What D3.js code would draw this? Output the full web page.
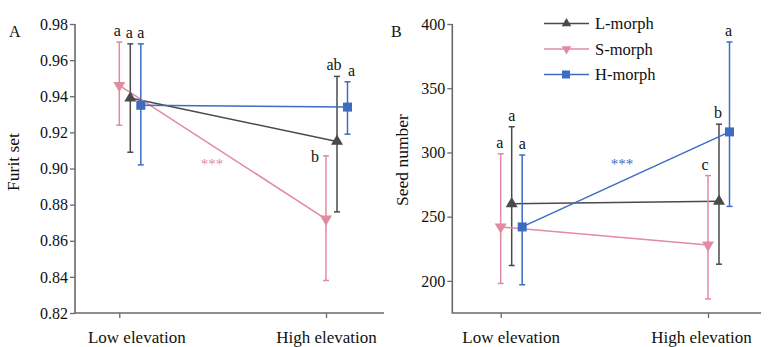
<!DOCTYPE html>
<html lang="en">
<head>
<meta charset="UTF-8">
<title>Fruit set and seed number</title>
<script src="https://d3js.org/d3.v7.min.js"></script>
<style>
  body { margin: 0; background: #fff; }
  svg text { font-family: "Liberation Serif", "DejaVu Serif", serif; fill: #111; }
</style>
</head>
<body>
<div id="chart"></div>
<script>
// categories and series
const categories = ["Low elevation", "High elevation"];
const series = ["L-morph", "S-morph", "H-morph"];
const colors = ["#4a4a4a", "#e28aa2", "#3d6cc0"];

// panel A: fruit set (mean, lower, upper), one array per morph, [low, high]
const fruitMean = [[0.939, 0.915], [0.946, 0.872], [0.935, 0.934]];
const fruitLow  = [[0.909, 0.876], [0.924, 0.838], [0.902, 0.919]];
const fruitHigh = [[0.969, 0.951], [0.970, 0.907], [0.969, 0.948]];
const fruitLetters = [["a", "ab"], ["a", "b"], ["a", "a"]];
const fruitTicks = [0.82, 0.84, 0.86, 0.88, 0.90, 0.92, 0.94, 0.96, 0.98];

// panel B: seed number
const seedMean = [[260, 262], [242, 228], [242, 316]];
const seedLow  = [[212, 213], [198, 186], [197, 258]];
const seedHigh = [[320, 322], [299, 282], [298, 386]];
const seedLetters = [["a", "b"], ["a", "c"], ["a", "a"]];
const seedTicks = [200, 250, 300, 350, 400];

const width = 768, height = 347;
const svg = d3.select("#chart").append("svg")
  .attr("width", width).attr("height", height);

const axisColor = "#6a6a6a";
const serif = "Liberation Serif, DejaVu Serif, serif";
const dodge = [11, 0, 21.5];   // horizontal offset of each morph from the tick

function panel(opt) {
  const g = svg.append("g");
  const y = d3.scaleLinear().domain(opt.domain).range([313, 24]);
  const x = d3.scalePoint().domain(categories).range(opt.xr);

  // y axis
  const ya = g.append("g").attr("transform", `translate(${opt.left},0)`)
    .call(d3.axisLeft(y).tickValues(opt.ticks).tickFormat(opt.fmt).tickSize(5).tickSizeOuter(0))
    .attr("font-family", serif);
  ya.select(".domain").remove();
  ya.selectAll("line").attr("stroke", axisColor).attr("stroke-width", 1.3);
  ya.selectAll("text").attr("font-size", 16).attr("x", -7).attr("fill", "#111");

  // x axis
  const xa = g.append("g").attr("transform", "translate(0,313)")
    .call(d3.axisBottom(x).tickSize(5).tickSizeOuter(0))
    .attr("font-family", serif);
  xa.select(".domain").remove();
  xa.selectAll("line").attr("stroke", axisColor).attr("stroke-width", 1.3);
  xa.selectAll("text").attr("font-size", 17).attr("dy", "1.3em")
    .attr("dx", (d, i) => opt.labelDx[i]).attr("fill", "#111");

  // axis lines
  g.append("path")
    .attr("d", `M${opt.left},${y(opt.domain[1])}V313H${opt.right}`)
    .attr("fill", "none").attr("stroke", axisColor).attr("stroke-width", 1.6);

  // axis title and panel letter
  g.append("text").attr("transform", `translate(${opt.titleX},${opt.titleY}) rotate(-90)`)
    .attr("text-anchor", "middle").attr("font-size", 17.5).text(opt.title);
  g.append("text").attr("x", opt.panelX).attr("y", 37).attr("font-size", 16).text(opt.panel);

  const px = (i, j) => x(categories[j]) + dodge[i];

  series.forEach((s, i) => {
    const c = colors[i];
    // connecting line
    g.append("path")
      .datum(opt.mean[i])
      .attr("d", d3.line().x((d, j) => px(i, j)).y(d => y(d)))
      .attr("fill", "none").attr("stroke", c).attr("stroke-width", 1.5);

    // error bars
    categories.forEach((cat, j) => {
      const cx = px(i, j), lo = y(opt.lo[i][j]), hi = y(opt.hi[i][j]);
      g.append("line").attr("x1", cx).attr("x2", cx).attr("y1", lo).attr("y2", hi)
        .attr("stroke", c).attr("stroke-width", 1.5);
      [lo, hi].forEach(v => g.append("line").attr("x1", cx - 3).attr("x2", cx + 3)
        .attr("y1", v).attr("y2", v).attr("stroke", c).attr("stroke-width", 1.5));
    });
  });

  // markers on top
  series.forEach((s, i) => {
    const c = colors[i];
    categories.forEach((cat, j) => {
      const cx = px(i, j), cy = y(opt.mean[i][j]);
      if (i === 2) {
        g.append("rect").attr("x", cx - 4.5).attr("y", cy - 4.5).attr("width", 9).attr("height", 9).attr("fill", c);
      } else {
        const sym = d3.symbol().type(d3.symbolTriangle).size(62);
        g.append("path").attr("d", sym())
          .attr("transform", `translate(${cx},${cy}) rotate(${i === 1 ? 180 : 0})`)
          .attr("fill", c);
      }
    });
  });

  // letters (small sideways nudges keep neighbours apart)
  series.forEach((s, i) => {
    categories.forEach((cat, j) => {
      const side = opt.side && opt.side[0] === i && opt.side[1] === j;
      const cx = px(i, j), top = y(opt.hi[i][j]);
      const nudge = opt.nudge ? opt.nudge[i][j] : 0;
      g.append("text")
        .attr("x", side ? cx - 11 : cx + nudge)
        .attr("y", side ? top + 6 : top - 6)
        .attr("text-anchor", "middle").attr("font-size", 16)
        .text(opt.letters[i][j]);
    });
  });

  // significance
  g.append("text").attr("x", opt.sig[0]).attr("y", opt.sig[1])
    .attr("text-anchor", "middle").attr("font-size", 15)
    .style("fill", colors[opt.sigSeries]).text("***");
  return g;
}

panel({
  domain: [0.82, 0.98], ticks: fruitTicks, fmt: d3.format(".2f"),
  left: 75, right: 384, xr: [119.3, 326], labelDx: [17, 0],
  mean: fruitMean, lo: fruitLow, hi: fruitHigh, letters: fruitLetters,
  nudge: [[-1, -3], [-2, 0], [0, 4]],
  title: "Furit set", titleX: 19, titleY: 162, panel: "A", panelX: 9,
  side: [1, 1], sig: [212, 169], sigSeries: 1
});

const pB = panel({
  domain: [175, 400], ticks: seedTicks, fmt: d3.format("d"),
  left: 452.3, right: 761, xr: [500.7, 708], labelDx: [10, -7],
  mean: seedMean, lo: seedLow, hi: seedHigh, letters: seedLetters,
  nudge: [[0, -1], [-1, -3], [0, -1]],
  title: "Seed number", titleX: 408, titleY: 160, panel: "B", panelX: 391,
  side: null, sig: [622, 169], sigSeries: 2
});

// legend
const legend = pB.append("g");
series.forEach((s, i) => {
  const ly = 23.5 + i * 25.5;
  legend.append("line").attr("x1", 544).attr("x2", 589).attr("y1", ly).attr("y2", ly)
    .attr("stroke", colors[i]).attr("stroke-width", 1.5);
  if (i === 2) {
    legend.append("rect").attr("x", 562).attr("y", ly - 4).attr("width", 8).attr("height", 8).attr("fill", colors[i]);
  } else {
    legend.append("path").attr("d", d3.symbol().type(d3.symbolTriangle).size(40)())
      .attr("transform", `translate(566.5,${ly}) rotate(${i === 1 ? 180 : 0})`)
      .attr("fill", colors[i]);
  }
  legend.append("text").attr("x", 595).attr("y", ly + 5.5).attr("font-size", 16.5).text(s);
});
</script>
</body>
</html>
